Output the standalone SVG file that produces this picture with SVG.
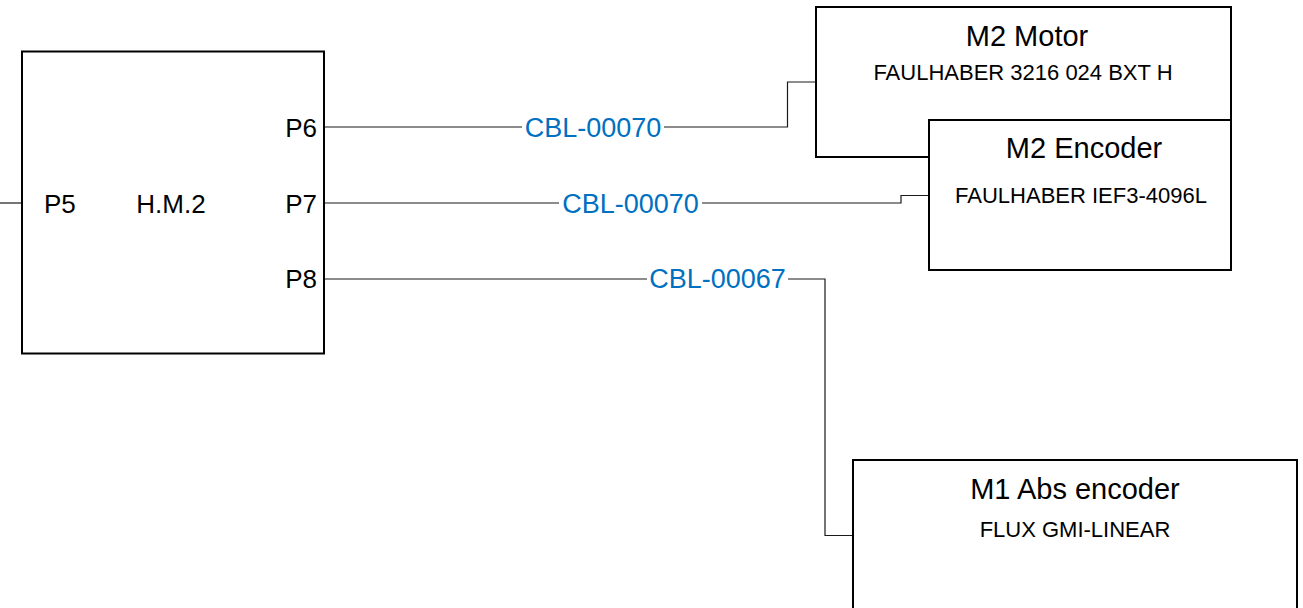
<svg xmlns="http://www.w3.org/2000/svg" width="1303" height="608" viewBox="0 0 1303 608">
<style>
.box{fill:#fff;stroke:#000;stroke-width:2}
.wire{fill:none;stroke:#1a1a1a;stroke-width:1.2}
.t{font-family:"Liberation Sans",Arial,sans-serif;fill:#000}
.title{font-size:29px;text-anchor:middle}
.sub{font-size:22px;text-anchor:middle}
.port{font-size:26px}
.lbl{font-family:"Liberation Sans",Arial,sans-serif;font-size:27px;fill:#0070C0;text-anchor:middle}
.bg{fill:#fff}
</style>
<rect width="1303" height="608" fill="#fff"/>
<g id="connectors">
<path class="wire" d="M0,203 H22"/>
<path class="wire" d="M324,127 H787.5 V82 H816"/>
<path class="wire" d="M324,203 H901 V195.5 H929"/>
<path class="wire" d="M324,279 H825 V535.5 H853"/>
<rect class="bg" x="522" y="112" width="142" height="30"/>
<text class="lbl" x="593" y="137">CBL-00070</text>
<rect class="bg" x="559" y="188" width="143" height="30"/>
<text class="lbl" x="630.5" y="213">CBL-00070</text>
<rect class="bg" x="647" y="264" width="141" height="30"/>
<text class="lbl" x="717.5" y="288">CBL-00067</text>
</g>
<g id="hm2">
<rect class="box" x="22" y="51.5" width="302" height="302"/>
<text class="t port" x="44" y="213">P5</text>
<text class="t port" x="171" y="213" text-anchor="middle">H.M.2</text>
<text class="t port" x="317" y="137" text-anchor="end">P6</text>
<text class="t port" x="317" y="213" text-anchor="end">P7</text>
<text class="t port" x="317" y="288" text-anchor="end">P8</text>
</g>
<g id="m2motor">
<rect class="box" x="816" y="7" width="415" height="150"/>
<text class="t title" x="1027" y="46">M2 Motor</text>
<text class="t sub" x="1023" y="80">FAULHABER 3216 024 BXT H</text>
</g>
<g id="m2encoder">
<rect class="box" x="929" y="120" width="302" height="150"/>
<text class="t title" x="1084" y="158">M2 Encoder</text>
<text class="t sub" x="1081" y="202.5">FAULHABER IEF3-4096L</text>
</g>
<g id="m1absencoder">
<rect class="box" x="853" y="460" width="444" height="160"/>
<text class="t title" x="1075" y="499">M1 Abs encoder</text>
<text class="t sub" x="1075" y="537">FLUX GMI-LINEAR</text>
</g>
</svg>
